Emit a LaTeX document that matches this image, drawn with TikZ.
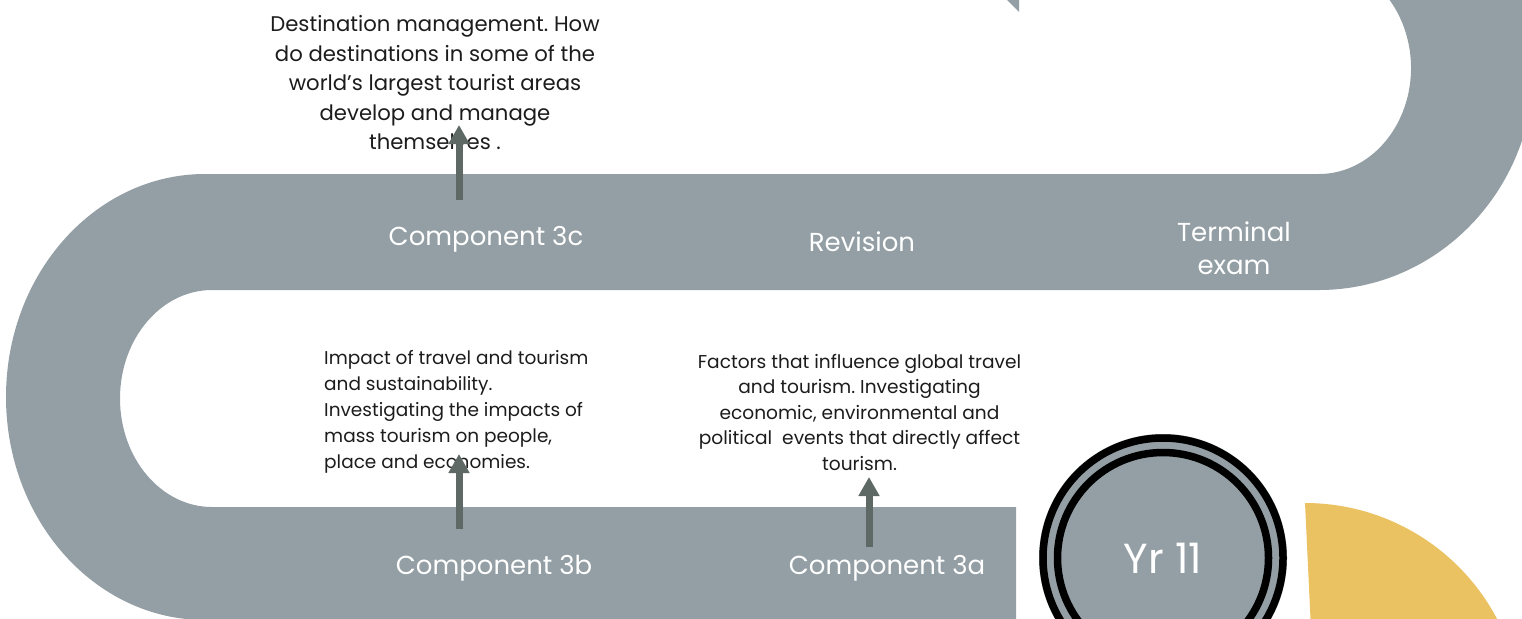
\documentclass[tikz,border=0pt]{standalone}
\usepackage{fontspec}
\setmainfont{Poppins}
\usetikzlibrary{arrows.meta}
\definecolor{track}{RGB}{147,159,164}
\definecolor{arrowc}{RGB}{94,104,100}
\definecolor{sun}{RGB}{235,194,98}
\definecolor{ink}{RGB}{28,28,28}
\frenchspacing
\begin{document}
\begin{tikzpicture}[x=1pt,y=-1pt,
  arr/.style={draw=arrowc, line width=7pt, -{Triangle[width=20pt,length=19pt]}},
  lbl/.style={text=white, font=\fontsize{26}{33}\selectfont, align=center, inner sep=0pt},
  desc/.style={text=ink, inner sep=0pt},
  ring/.style={draw=black, line width=7.5pt}
]
\useasboundingbox (0,0) rectangle (1522,618);
\clip (0,0) rectangle (1522,618);
% track
\fill[track] (1016,621) -- (1016,507) -- (212,507)
  arc[start angle=90,end angle=270,x radius=92,y radius=108.5]
  -- (1319,290)
  arc[start angle=90,end angle=-40,x radius=215,y radius=223]
  -- (1365,-23.8)
  arc[start angle=-60,end angle=90,x radius=92,y radius=106]
  -- (205,174)
  arc[start angle=270,end angle=90,x radius=199,y radius=223]
  -- cycle;
\fill[track] (1007,0) -- (1019,0) -- (1019,12) -- cycle;
% yellow
\fill[sun] (1311,630) -- (1305,503) arc[start angle=270,end angle=345,radius=217] -- cycle;
% year circle
\node[circle, fill=track, minimum size=248pt, inner sep=0pt, text=white,
  font=\fontsize{42}{42}\selectfont] (yr) at (1163,558) {Yr 11};
\draw[ring] (yr.center) circle[radius=120];
\draw[ring] (yr.center) circle[radius=105.5];
% labels on track
\node[lbl] (c3c) at (486,239) {Component 3c};
\node[lbl] (rev) at (862,242) {Revision};
\node[lbl] (term) at (1234,248) {Terminal\\exam};
\node[lbl] (c3b) at (494,568) {Component 3b};
\node[lbl] (c3a) at (887,568) {Component 3a};
% descriptions
\node[desc, font=\fontsize{21.2}{29.5}\selectfont, align=center] (t3c) at (435,83)
  {Destination management. How\\do destinations in some of the\\world’s largest tourist areas\\develop and manage\\themselves .};
\node[desc, font=\fontsize{18.5}{26}\selectfont, align=left, anchor=west] (t3b) at (324,412)
  {Impact of travel and tourism\\and sustainability.\\Investigating the impacts of\\mass tourism on people,\\place and economies.};
\node[desc, font=\fontsize{18.6}{25.5}\selectfont, align=center] (t3a) at (859.5,412)
  {Factors that influence global travel\\and tourism. Investigating\\economic, environmental and\\political \ events that directly affect\\tourism.};
% arrows
\coordinate (a1s) at (459,200); \coordinate (a1e) at (459,125);
\coordinate (a2s) at (459,529); \coordinate (a2e) at (459,454);
\coordinate (a3s) at (869,547); \coordinate (a3e) at (869,477);
\draw[arr] (a1s) -- (a1e);
\draw[arr] (a2s) -- (a2e);
\draw[arr] (a3s) -- (a3e);
\end{tikzpicture}
\end{document}
